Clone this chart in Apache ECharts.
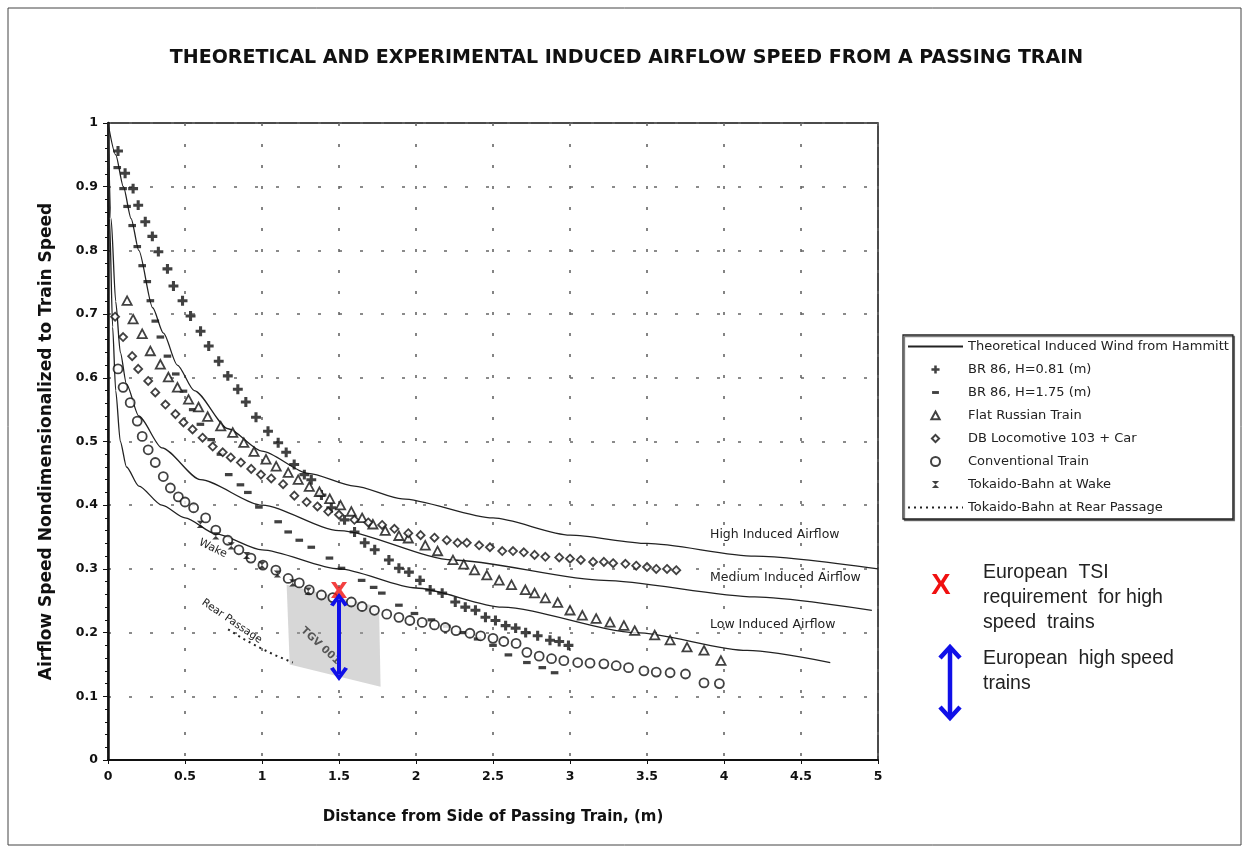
<!DOCTYPE html>
<html><head><meta charset="utf-8">
<script src="https://cdn.jsdelivr.net/npm/echarts@6/dist/echarts.min.js"></script>
<style>html,body{margin:0;padding:0;background:#fff}#c{width:1253px;height:859px}</style>
</head><body><div id="c"></div><script>
// ---------------- data ----------------
const xTicks = [0,0.5,1,1.5,2,2.5,3,3.5,4,4.5,5];
const yTicks = [0,0.1,0.2,0.3,0.4,0.5,0.6,0.7,0.8,0.9,1];

const highX = [0,0.05,0.1,0.15,0.2,0.29,0.36,0.45,0.56,0.78,1.0,1.3,1.6,1.91,2.5,3.0,3.5,4.2,5.0];
const highY = [1,0.95,0.9,0.85,0.8,0.71,0.67,0.62,0.58,0.52,0.485,0.45,0.43,0.41,0.38,0.353,0.34,0.32,0.30];
const medX = [0,0.02,0.05,0.08,0.12,0.2,0.35,0.6,1.0,1.5,2.24,3.22,4.2,4.96];
const medY = [1,0.85,0.72,0.64,0.59,0.54,0.49,0.44,0.40,0.36,0.314,0.282,0.256,0.235];
const lowX = [0,0.01,0.03,0.05,0.08,0.12,0.2,0.35,0.5,0.7,1.0,1.5,2.0,2.56,3.43,4.15,4.69];
const lowY = [1,0.85,0.68,0.58,0.5,0.46,0.43,0.4,0.38,0.355,0.33,0.3,0.27,0.24,0.2,0.172,0.153];

const br081X = [0.065,0.111,0.163,0.196,0.242,0.288,0.327,0.386,0.425,0.484,0.536,0.601,0.654,0.719,0.778,0.843,0.895,0.961,1.039,1.105,1.157,1.209,1.275,1.32,1.386,1.45,1.536,1.601,1.667,1.732,1.824,1.889,1.954,2.026,2.092,2.17,2.255,2.32,2.386,2.451,2.516,2.582,2.647,2.712,2.79,2.87,2.93,2.99];
const br081Y = [0.956,0.921,0.897,0.871,0.845,0.822,0.798,0.771,0.744,0.721,0.697,0.673,0.650,0.626,0.603,0.582,0.562,0.538,0.516,0.498,0.483,0.464,0.448,0.44,0.416,0.396,0.377,0.358,0.341,0.330,0.314,0.301,0.295,0.282,0.267,0.262,0.248,0.240,0.235,0.224,0.219,0.211,0.207,0.200,0.195,0.188,0.186,0.18];

const br175X = [0.06,0.098,0.124,0.157,0.19,0.222,0.255,0.275,0.307,0.34,0.386,0.44,0.49,0.55,0.60,0.67,0.73,0.784,0.86,0.908,0.98,1.105,1.17,1.242,1.32,1.438,1.516,1.647,1.725,1.778,1.889,1.99,2.1,2.2,2.3,2.4,2.5,2.6,2.72,2.82,2.9];
const br175Y = [0.93,0.897,0.869,0.839,0.806,0.776,0.751,0.721,0.689,0.664,0.634,0.606,0.579,0.55,0.527,0.503,0.48,0.448,0.432,0.42,0.397,0.374,0.358,0.345,0.334,0.317,0.301,0.282,0.271,0.262,0.243,0.23,0.22,0.21,0.2,0.19,0.18,0.165,0.153,0.145,0.137];

const russX = [0.124,0.163,0.222,0.275,0.34,0.392,0.451,0.523,0.588,0.647,0.732,0.81,0.882,0.948,1.026,1.092,1.17,1.235,1.307,1.373,1.44,1.51,1.58,1.65,1.72,1.8,1.889,1.95,2.06,2.14,2.24,2.31,2.38,2.46,2.54,2.62,2.71,2.77,2.84,2.92,3.0,3.08,3.17,3.26,3.35,3.42,3.55,3.65,3.76,3.87,3.98];
const russY = [0.721,0.692,0.669,0.642,0.621,0.601,0.585,0.566,0.554,0.539,0.524,0.514,0.498,0.484,0.472,0.461,0.451,0.44,0.429,0.421,0.41,0.40,0.39,0.38,0.37,0.36,0.352,0.348,0.337,0.328,0.314,0.307,0.298,0.29,0.282,0.275,0.267,0.262,0.254,0.247,0.235,0.227,0.222,0.216,0.211,0.203,0.196,0.188,0.177,0.172,0.156];

const dbX = [0.046,0.098,0.157,0.196,0.261,0.307,0.373,0.438,0.49,0.549,0.614,0.68,0.745,0.797,0.863,0.93,0.993,1.06,1.137,1.21,1.29,1.36,1.43,1.5,1.6,1.69,1.78,1.86,1.95,2.03,2.12,2.2,2.27,2.33,2.41,2.48,2.56,2.63,2.7,2.77,2.84,2.93,3.0,3.07,3.15,3.22,3.28,3.36,3.43,3.5,3.56,3.63,3.69];
const dbY = [0.696,0.664,0.634,0.614,0.595,0.577,0.558,0.543,0.53,0.519,0.506,0.492,0.483,0.475,0.467,0.457,0.448,0.442,0.433,0.415,0.405,0.398,0.39,0.385,0.377,0.373,0.369,0.363,0.356,0.353,0.349,0.345,0.341,0.341,0.337,0.334,0.328,0.328,0.326,0.322,0.319,0.318,0.316,0.314,0.311,0.311,0.309,0.308,0.305,0.303,0.3,0.3,0.298];

const convX = [0.065,0.098,0.144,0.19,0.222,0.261,0.307,0.359,0.405,0.457,0.5,0.556,0.634,0.70,0.778,0.85,0.928,1.006,1.09,1.17,1.242,1.307,1.386,1.46,1.58,1.65,1.73,1.81,1.889,1.96,2.04,2.12,2.19,2.26,2.35,2.42,2.5,2.57,2.65,2.72,2.8,2.88,2.96,3.05,3.13,3.22,3.3,3.38,3.48,3.56,3.65,3.75,3.87,3.97];
const convY = [0.614,0.585,0.561,0.532,0.508,0.487,0.467,0.445,0.427,0.413,0.405,0.396,0.38,0.361,0.345,0.33,0.317,0.306,0.298,0.285,0.278,0.267,0.259,0.255,0.248,0.241,0.235,0.229,0.224,0.219,0.216,0.212,0.208,0.203,0.199,0.195,0.191,0.186,0.183,0.169,0.163,0.159,0.156,0.153,0.152,0.151,0.148,0.145,0.14,0.138,0.137,0.135,0.121,0.12];

const wakeX = [0.6,0.7,0.8,0.9,1.0,1.1,1.2,1.3];
const wakeY = [0.37,0.352,0.336,0.321,0.306,0.292,0.278,0.265];

const rearX = [0.78,0.88,0.98,1.08,1.2];
const rearY = [0.205,0.19,0.177,0.165,0.153];

const tgvX = [1.16,1.76,1.77,1.18];
const tgvY = [0.275,0.24,0.115,0.15];

const tsiX = [1.5];
const tsiY = [0.267];
const euroRangeX = 1.5;
const euroRangeY = [0.252, 0.135];

const LINE_NAME = 'Theoretical Induced Wind from Hammitt';
const names = [LINE_NAME,'BR 86, H=0.81 (m)','BR 86, H=1.75 (m)','Flat Russian Train','DB Locomotive 103 + Car','Conventional Train','Tokaido-Bahn at Wake','Tokaido-Bahn at Rear Passage'];

// ---------------- helpers ----------------
const pairs = (xs, ys) => xs.map((x, i) => [x, ys[i]]);
const BOX = 'M0,0L0,0M10,10L10,10';
const PLUS = 'path://' + BOX + 'M3.6,0.5H6.4V3.6H9.5V6.4H6.4V9.5H3.6V6.4H0.5V3.6H3.6Z';
const DASH = 'path://' + BOX + 'M1.2,3.4H8.8V6.6H1.2Z';
const TRI = 'path://' + BOX + 'M5,0.6L9.6,9.2L0.4,9.2Z';
const DIAM = 'path://' + BOX + 'M5,1L9,5L5,9L1,5Z';
const HOURGLASS = 'path://' + BOX + 'M1,1L9,1L1,9L9,9Z';
const XMARK = 'path://M0,0L2.8,0L5,3.3L7.2,0L10,0L6.5,5L10,10L7.2,10L5,6.7L2.8,10L0,10L3.5,5Z';
const CHEV = 'path://M0,9L5,0L10,9L8,10.2L5,4.6L2,10.2Z';
const hollow = {color: '#fff', borderColor: '#111', borderWidth: 1.8};
const FONT = 'DejaVu Sans';

const theo = (xs, ys) => ({
  name: LINE_NAME, type: 'line', data: pairs(xs, ys), smooth: 0.25, smoothMonotone: 'x',
  symbol: 'none', itemStyle: {color: 'rgba(0,0,0,0)', borderWidth: 0},
  lineStyle: {color: '#222', width: 1.3}, z: 3, silent: true
});

const chart = echarts.init(document.getElementById('c'), null, {renderer: 'canvas'});
chart.setOption({
  backgroundColor: '#fff',
  animation: false,
  title: {
    text: 'THEORETICAL AND EXPERIMENTAL INDUCED AIRFLOW SPEED FROM A PASSING TRAIN',
    left: 'center', top: 44,
    textStyle: {fontFamily: FONT, fontWeight: 'bold', fontSize: 19, color: '#111'}
  },
  grid: {left: 108, top: 123, right: 375, bottom: 99, show: true, borderColor: '#111', borderWidth: 1.5, backgroundColor: 'transparent'},
  legend: {
    data: names, orient: 'vertical', left: 903, top: 335,
    itemWidth: 55, itemHeight: 9, itemGap: 10,
    padding: [5, 4, 5, 4],
    backgroundColor: '#fff', borderColor: '#222', borderWidth: 1.3,
    shadowColor: 'rgba(0,0,0,0.5)', shadowOffsetX: 1.5, shadowOffsetY: 1.5, shadowBlur: 0,
    textStyle: {fontFamily: FONT, fontSize: 13, color: '#222'},
    selectedMode: false
  },
  xAxis: {
    type: 'value', min: 0, max: 5, interval: 0.5,
    name: 'Distance from Side of Passing Train, (m)', nameLocation: 'middle', nameGap: 50,
    nameTextStyle: {fontFamily: FONT, fontWeight: 'bold', fontSize: 15, color: '#111'},
    axisLine: {lineStyle: {color: '#111', width: 2}},
    axisTick: {show: true, length: 4, lineStyle: {color: '#111'}},
    axisLabel: {fontFamily: FONT, fontWeight: 'bold', fontSize: 12.5, color: '#111', margin: 10},
    splitLine: {show: true, lineStyle: {color: '#666', width: 1.6, type: [3, 18]}}
  },
  yAxis: {
    type: 'value', min: 0, max: 1, interval: 0.1,
    name: 'Airflow Speed Nondimensionalized to Train Speed', nameLocation: 'middle', nameGap: 53, nameRotate: 90,
    nameTextStyle: {fontFamily: FONT, fontWeight: 'bold', fontSize: 17, color: '#111'},
    axisLine: {lineStyle: {color: '#111', width: 2.5}},
    axisTick: {show: true, length: 5, lineStyle: {color: '#111'}},
    minorTick: {show: true, splitNumber: 5, length: 3, lineStyle: {color: '#111'}},
    axisLabel: {fontFamily: FONT, fontWeight: 'bold', fontSize: 12.5, color: '#111', margin: 10},
    splitLine: {show: true, lineStyle: {color: '#666', width: 1.6, type: [3, 18]}}
  },
  series: [
    {
      name: 'TGV 001', type: 'custom', silent: true, z: 1,
      data: pairs(tgvX, tgvY),
      renderItem: (params, api) => {
        if (params.dataIndex !== 0) return null;
        const pts = tgvX.map((x, i) => api.coord([x, tgvY[i]]));
        return {type: 'polygon', shape: {points: pts}, style: {fill: 'rgba(160,160,160,0.42)'}};
      }
    },
    theo(highX, highY), theo(medX, medY), theo(lowX, lowY),
    {name: names[1], type: 'scatter', symbol: PLUS, symbolSize: 11, data: pairs(br081X, br081Y), itemStyle: {color: '#111'}, z: 4},
    {name: names[2], type: 'scatter', symbol: DASH, symbolSize: 10, data: pairs(br175X, br175Y), itemStyle: {color: '#111'}, z: 4},
    {name: names[3], type: 'scatter', symbol: TRI, symbolSize: 10, data: pairs(russX, russY), itemStyle: hollow, z: 4},
    {name: names[4], type: 'scatter', symbol: DIAM, symbolSize: 10, data: pairs(dbX, dbY), itemStyle: hollow, z: 4},
    {name: names[5], type: 'scatter', symbol: 'circle', symbolSize: 9, data: pairs(convX, convY), itemStyle: hollow, z: 4},
    {name: names[6], type: 'scatter', symbol: HOURGLASS, symbolSize: 9, data: pairs(wakeX, wakeY), itemStyle: {color: '#111'}, z: 5},
    {name: names[7], type: 'line', symbol: 'none', data: pairs(rearX, rearY), itemStyle: {color: 'rgba(0,0,0,0)', borderWidth: 0},
     lineStyle: {color: '#222', width: 2, type: [2, 4]}, z: 3},
    {
      name: 'European TSI', type: 'scatter', symbol: XMARK, symbolSize: 16,
      data: pairs(tsiX, tsiY), itemStyle: {color: '#f01010'}, z: 12,
      markLine: {
        silent: true, symbol: [CHEV, CHEV], symbolSize: [18, 14], precision: 3,
        lineStyle: {color: '#1010e8', width: 4, type: 'solid'}, label: {show: false},
        emphasis: {disabled: true},
        data: [[{coord: [euroRangeX, euroRangeY[0]]}, {coord: [euroRangeX, euroRangeY[1]]}]]
      }
    }
  ],
  graphic: [
    {type: 'rect', shape: {x: 8, y: 8, width: 1233, height: 837}, style: {fill: 'none', stroke: '#444', lineWidth: 1}, silent: true, z: -1},
    {type: 'text', left: 710, top: 528, style: {text: 'High Induced Airflow', font: '12.5px "DejaVu Sans"', fill: '#222'}},
    {type: 'text', left: 710, top: 571, style: {text: 'Medium Induced Airflow', font: '12.5px "DejaVu Sans"', fill: '#222'}},
    {type: 'text', left: 710, top: 618, style: {text: 'Low Induced Airflow', font: '12.5px "DejaVu Sans"', fill: '#222'}},
    {type: 'text', x: 202, y: 537, rotation: -0.45, style: {text: 'Wake', font: '11px "DejaVu Sans"', fill: '#222'}},
    {type: 'text', x: 206, y: 597, rotation: -0.6, style: {text: 'Rear Passage', font: '10.5px "DejaVu Sans"', fill: '#222'}},
    {type: 'text', x: 306, y: 625, rotation: -0.75, style: {text: 'TGV 001', font: 'bold 10.5px "DejaVu Sans"', fill: '#222'}},
    {type: 'text', x: 941, y: 586, style: {text: 'X', font: 'bold 29px "Liberation Sans"', fill: '#f01010', align: 'center', verticalAlign: 'middle'}},
    {type: 'text', x: 983, y: 560, style: {text: 'European  TSI\nrequirement  for high\nspeed  trains', font: '19.5px "Liberation Sans"', fill: '#222', lineHeight: 25}},
    {type: 'text', x: 983, y: 646, style: {text: 'European  high speed\ntrains', font: '19.5px "Liberation Sans"', fill: '#222', lineHeight: 25}},
    {type: 'line', shape: {x1: 950, y1: 648, x2: 950, y2: 717}, style: {stroke: '#1010e8', lineWidth: 4.5}},
    {type: 'polyline', shape: {points: [[940, 658], [950, 647], [960, 658]]}, style: {stroke: '#1010e8', lineWidth: 4.5, fill: 'none'}},
    {type: 'polyline', shape: {points: [[940, 707], [950, 718], [960, 707]]}, style: {stroke: '#1010e8', lineWidth: 4.5, fill: 'none'}}
  ]
});
</script></body></html>
